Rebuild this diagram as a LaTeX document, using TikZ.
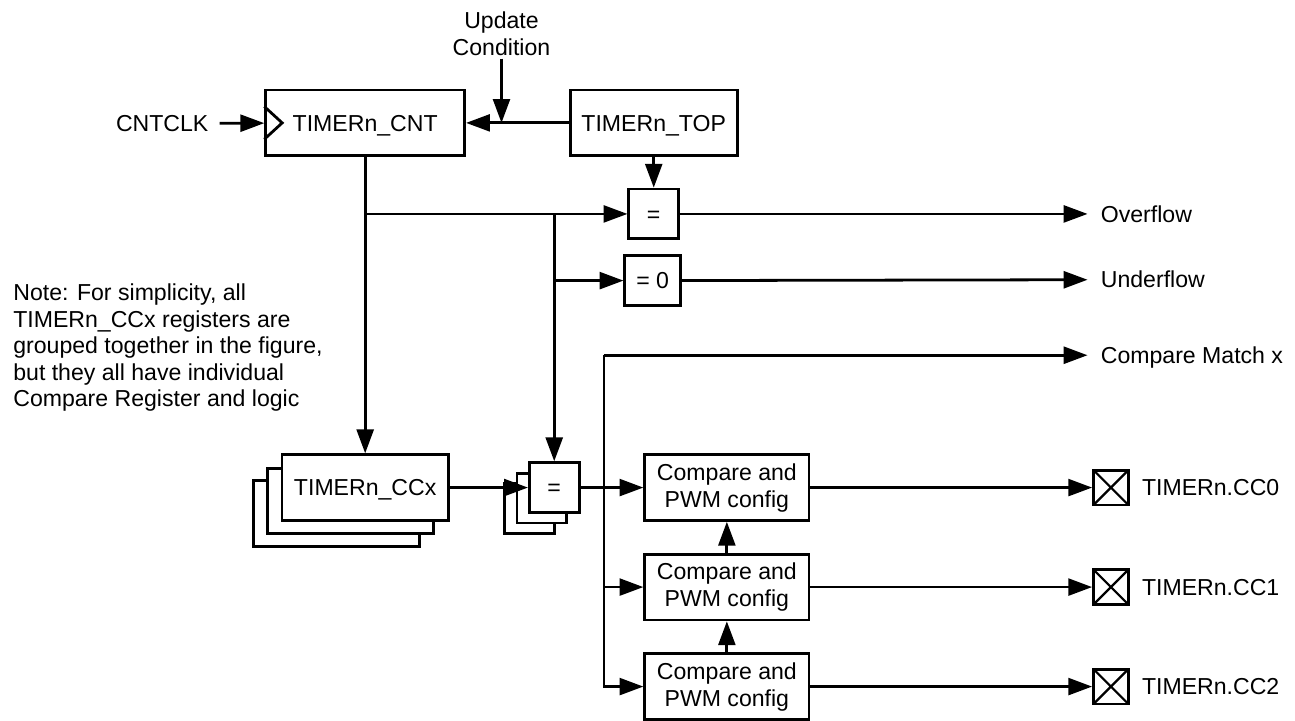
\documentclass[tikz,border=0pt]{standalone}
\usepackage{fontspec}
\setmainfont{Liberation Sans}
\usetikzlibrary{positioning,arrows.meta}

\begin{document}
\begin{tikzpicture}[
  x=0.5pt, y=-0.5pt,
  font=\fontsize{11.6}{13.6}\selectfont,
  line width=1.4pt,
  box/.style  = {draw, fill=white, align=center, inner sep=0pt,
                 minimum height=33pt},
  one/.style  = {text height=8.3pt, text depth=0pt},
  reg/.style  = {box, one, minimum width=83.5pt},
  eq/.style   = {box, one, minimum width=25pt, minimum height=25pt},
  cfg/.style  = {box, minimum width=82.5pt},
  pad/.style  = {draw, minimum size=17.5pt, inner sep=0pt,
                 path picture={\draw[line width=1.1pt]
                   (path picture bounding box.north west) -- (path picture bounding box.south east)
                   (path picture bounding box.south west) -- (path picture bounding box.north east);}},
  sig/.style  = {one, inner sep=6pt, anchor=west},
  pin/.style  = {one, inner sep=5.5pt, right=0pt of #1},
  flow/.style = {-{Triangle[length=12pt,width=8.5pt]}},
  note/.style = {anchor=north west, align=left, inner sep=0pt,
                 font=\fontsize{11.6}{13.35}\selectfont}
]
\path[fill=white] (0,0) rectangle (1295,722);

% ------------------------------------------------------------- il contatore --
\node[box, one, minimum width=100pt] (cnt) at (367,123.5) {TIMERn\_CNT};
\node[box, one, minimum width=84pt]  (top) at (657,123.5) {TIMERn\_TOP};
\node[one, inner sep=5pt]            (clk) at (163,124)   {CNTCLK};
\node[align=center, inner sep=1pt]   (upd) at (504,33.5)  {Update\\Condition};
\coordinate (uj) at (504,123.5);

\draw ([yshift=8.25pt]cnt.west) -- ++(9pt,-8.25pt) -- ++(-9pt,-8.25pt);
\draw[flow] (clk) -- (cnt);
\draw[flow] (top) -- (cnt);
\draw[flow] (upd) -- (uj);

% ------------------------------------------------------------- i confronti --
\node[eq]                     (eqtop)  at (657,215) {=};
\node[eq, minimum width=28pt] (eqzero) at (656,282) {= 0};

\node[sig] (ovf) at (1093,215) {Overflow};
\node[sig] (unf) at (1093,281) {Underflow};
\node[sig] (cmx) at (1093,357) {Compare Match x};

\coordinate (j1) at (367,215);
\coordinate (j2) at (557,215);
\coordinate (j3) at (557,282);

\draw[flow] (top) -- (eqtop);
\draw[flow] (j1) -- (eqtop);
\draw[flow] (j3) -- (eqzero);
\draw[flow] (eqtop) -- (ovf);
\draw[flow] (eqzero) -- (unf);

% ------------------------------------------ i registri CCx, uno sopra l'altro --
\node[reg] (ccx2) at (338,516)   {};
\node[reg] (ccx1) at (352.5,503.5) {};
\node[reg] (ccx)  at (367,490)   {TIMERn\_CCx};

\node[eq] (eqs2) at (532,511)   {};
\node[eq] (eqs1) at (544.5,500.5) {};
\node[eq] (eqs)  at (557,490)   {=};

\draw[flow] (cnt) -- (ccx);
\draw[flow] (j2) -- (eqs);
\draw[flow] (ccx) -- (eqs);

% ------------------------------------------------------ compare e uscite --
\node[cfg] (cfg0) at (730.5,490) {Compare and\\PWM config};
\node[cfg] (cfg1) at (730.5,590) {Compare and\\PWM config};
\node[cfg] (cfg2) at (730.5,690) {Compare and\\PWM config};

\node[pad] (pad0) at (1116.5,490) {};
\node[pad] (pad1) at (1116.5,590) {};
\node[pad] (pad2) at (1116.5,690) {};
\node[pin=pad0] (cc0) {TIMERn.CC0};
\node[pin=pad1] (cc1) {TIMERn.CC1};
\node[pin=pad2] (cc2) {TIMERn.CC2};

\coordinate (b0) at (607,357);
\coordinate (b1) at (607,590);

\draw[flow] (eqs) -- (cfg0);
\draw[flow] (b0) -- (cmx);
\draw[flow] (b0) |- (cfg2.west);
\draw[flow] (b1) -- (cfg1);
\draw[flow] (cfg1) -- (cfg0);
\draw[flow] (cfg2) -- (cfg1);

\draw[flow] (cfg0) -- (pad0);
\draw[flow] (cfg1) -- (pad1);
\draw[flow] (cfg2) -- (pad2);

% -------------------------------------------------------------- la nota --
\node[note] (nb) at (12,284) {Note: For simplicity, all\\TIMERn\_CCx registers are\\grouped together in the figure,\\but they all have individual\\Compare Register and logic};

\end{tikzpicture}
\end{document}
